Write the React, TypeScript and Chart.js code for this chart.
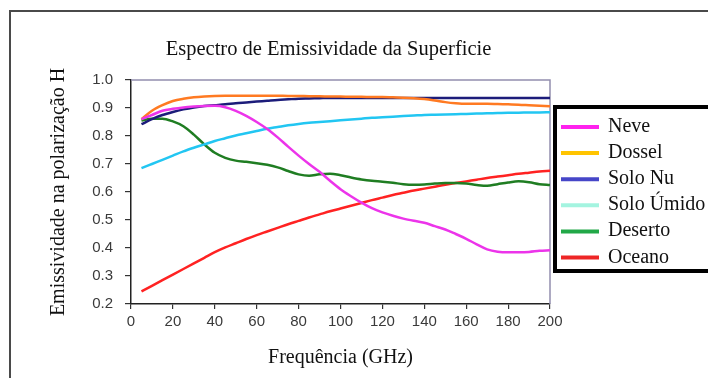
import React, { useEffect, useRef } from "react";
import { Chart, registerables } from "chart.js";

Chart.register(...registerables);

const chartTitle = "Espectro de Emissividade da Superficie";
const xTitle = "Frequência (GHz)";
const yTitle = "Emissividade na polarização H";

const freq = [5, 10, 15, 20, 25, 30, 35, 40, 45, 50, 55, 60, 65, 70, 75, 80, 85, 90, 95, 100,
  105, 110, 115, 120, 125, 130, 135, 140, 145, 150, 155, 160, 165, 170, 175, 180, 185, 190, 195, 200];

const neve = [0.86, 0.875, 0.89, 0.897, 0.902, 0.905, 0.907, 0.908, 0.903, 0.89, 0.872, 0.85, 0.825, 0.795, 0.762, 0.73, 0.7, 0.672, 0.64, 0.61,
  0.585, 0.562, 0.542, 0.527, 0.515, 0.505, 0.497, 0.49, 0.478, 0.466, 0.45, 0.433, 0.413, 0.395, 0.387, 0.385, 0.385, 0.386, 0.39, 0.392];

const dossel = [0.86, 0.89, 0.91, 0.925, 0.933, 0.938, 0.941, 0.943, 0.944, 0.944, 0.944, 0.944, 0.944, 0.944, 0.943, 0.943, 0.942, 0.942, 0.941, 0.941,
  0.94, 0.94, 0.939, 0.939, 0.938, 0.937, 0.935, 0.932, 0.927, 0.921, 0.917, 0.915, 0.915, 0.915, 0.914, 0.913, 0.912, 0.91, 0.908, 0.906];

const soloNu = [0.842, 0.86, 0.875, 0.886, 0.895, 0.902, 0.907, 0.91, 0.913, 0.917, 0.92, 0.923, 0.926, 0.929, 0.931, 0.933, 0.934, 0.935, 0.936, 0.936,
  0.936, 0.936, 0.936, 0.936, 0.936, 0.936, 0.936, 0.936, 0.936, 0.936, 0.936, 0.936, 0.936, 0.936, 0.936, 0.936, 0.936, 0.936, 0.936, 0.936];

const soloUmido = [0.685, 0.7, 0.715, 0.73, 0.745, 0.758, 0.77, 0.782, 0.792, 0.802, 0.81, 0.818, 0.826, 0.832, 0.838, 0.843, 0.847, 0.85, 0.853, 0.856,
  0.859, 0.862, 0.865, 0.867, 0.869, 0.871, 0.873, 0.875, 0.876, 0.877, 0.878, 0.879, 0.88, 0.881, 0.882, 0.883, 0.883, 0.884, 0.884, 0.885];

const deserto = [0.855, 0.862, 0.862, 0.852, 0.835, 0.805, 0.77, 0.74, 0.722, 0.712, 0.708, 0.703, 0.697, 0.688, 0.675, 0.663, 0.658, 0.663, 0.665, 0.66,
  0.652, 0.645, 0.64, 0.637, 0.633, 0.628, 0.626, 0.627, 0.63, 0.632, 0.632, 0.63, 0.625, 0.622, 0.628, 0.634, 0.638, 0.635, 0.628, 0.625];

const oceano = [0.245, 0.265, 0.285, 0.305, 0.325, 0.345, 0.365, 0.385, 0.402, 0.417, 0.432, 0.446, 0.459, 0.472, 0.485, 0.497, 0.509, 0.52, 0.531, 0.541,
  0.551, 0.561, 0.571, 0.58, 0.589, 0.597, 0.605, 0.612, 0.619, 0.626, 0.632, 0.638, 0.644, 0.65, 0.655, 0.66, 0.665, 0.669, 0.673, 0.676];

const seriesLabels = ["Neve", "Dossel", "Solo Nu", "Solo Úmido", "Deserto", "Oceano"];
const seriesValues = [neve, dossel, soloNu, soloUmido, deserto, oceano];
const lineColors = ["#ec34ea", "#ff7a22", "#1c1c7a", "#22c6f2", "#1f7d22", "#ff2222"];
const legendColors = ["#ff22ee", "#ffc400", "#4646c8", "#a4f4e0", "#22a848", "#ee2626"];

const SERIF = '"Liberation Serif", "Times New Roman", serif';
const SANS = '"Liberation Sans", Arial, sans-serif';

const decorPlugin = {
  id: "decor",
  beforeDraw(chart: any) {
    const ctx = chart.ctx;
    ctx.save();
    ctx.fillStyle = "#ffffff";
    ctx.fillRect(0, 0, chart.width, chart.height);
    ctx.strokeStyle = "#4a4a4a";
    ctx.lineWidth = 2;
    ctx.beginPath();
    ctx.moveTo(10, chart.height + 2);
    ctx.lineTo(10, 11);
    ctx.lineTo(chart.width + 2, 11);
    ctx.stroke();
    ctx.restore();
  },
  beforeDatasetsDraw(chart: any) {
    const ctx = chart.ctx;
    const a = chart.chartArea;
    ctx.save();
    ctx.strokeStyle = "#938eae";
    ctx.lineWidth = 1.5;
    ctx.beginPath();
    ctx.moveTo(a.left, a.top);
    ctx.lineTo(a.right, a.top);
    ctx.lineTo(a.right, a.bottom);
    ctx.stroke();
    ctx.restore();
  },
  afterDraw(chart: any) {
    const ctx = chart.ctx;
    const a = chart.chartArea;
    ctx.save();
    ctx.fillStyle = "#111111";
    ctx.font = "20.5px " + SERIF;
    ctx.textAlign = "center";
    ctx.textBaseline = "alphabetic";
    ctx.fillText(chartTitle, (a.left + a.right) / 2 - 12, 55);

    const boxLeft = a.right + 5;
    const boxTop = 107;
    const boxBottom = 271;
    ctx.fillStyle = "#ffffff";
    ctx.fillRect(boxLeft, boxTop, chart.width - boxLeft + 4, boxBottom - boxTop);
    ctx.strokeStyle = "#000000";
    ctx.lineWidth = 4;
    ctx.strokeRect(boxLeft, boxTop, chart.width - boxLeft + 6, boxBottom - boxTop);
    ctx.textAlign = "left";
    ctx.font = "20px " + SERIF;
    chart.data.datasets.forEach((ds: any, i: number) => {
      const base = 132 + i * 26.1;
      ctx.strokeStyle = legendColors[i];
      ctx.lineWidth = 4;
      ctx.beginPath();
      ctx.moveTo(boxLeft + 6, base - 5);
      ctx.lineTo(boxLeft + 44, base - 5);
      ctx.stroke();
      ctx.fillStyle = "#111111";
      ctx.fillText(ds.label, boxLeft + 53, base);
    });
    ctx.restore();
  },
};

export default function App() {
  const ref = useRef<HTMLCanvasElement | null>(null);
  useEffect(() => {
    if (!ref.current) return;
    const datasets = seriesLabels.map((label, i) => ({
      label,
      data: freq.map((f, j) => ({ x: f, y: seriesValues[i][j] })),
      borderColor: lineColors[i],
      backgroundColor: lineColors[i],
      borderWidth: 2.5,
      pointRadius: 0,
      cubicInterpolationMode: "monotone" as const,
      fill: false,
    }));
    const chart = new Chart(ref.current, {
      type: "line",
      data: { datasets },
      options: {
        responsive: false,
        animation: false,
        layout: { padding: { left: 0, top: 80, right: 158, bottom: 0 } },
        plugins: {
          legend: { display: false },
          title: { display: false },
          tooltip: { enabled: false },
        },
        scales: {
          x: {
            type: "linear",
            min: 0,
            max: 200,
            afterFit: (s: any) => { s.height = 74; },
            ticks: { stepSize: 20, color: "#3a3a3a", font: { family: SANS, size: 15 }, padding: 4, maxRotation: 0 },
            grid: { drawOnChartArea: false, drawTicks: true, tickLength: 5, color: "#333333", lineWidth: 1.2 },
            border: { display: true, color: "#222222", width: 1.5 },
            title: { display: true, text: xTitle, color: "#111111", font: { family: SERIF, size: 20 }, padding: { top: 0, bottom: 8 } },
          },
          y: {
            type: "linear",
            min: 0.2,
            max: 1.0,
            afterFit: (s: any) => { s.width = 131; },
            ticks: { stepSize: 0.1, color: "#3a3a3a", font: { family: SANS, size: 15 }, padding: 12, callback: (v: any) => Number(v).toFixed(1) },
            grid: { drawOnChartArea: false, drawTicks: true, tickLength: 6, color: "#333333", lineWidth: 1.2 },
            border: { display: true, color: "#222222", width: 1.5 },
            title: { display: true, text: yTitle, color: "#111111", font: { family: SERIF, size: 20 }, padding: { top: 47, bottom: 0 } },
          },
        },
      },
      plugins: [decorPlugin],
    });
    return () => chart.destroy();
  }, []);
  return (
    <div style={{ position: "absolute", left: 0, top: 0, width: 708, height: 378 }}>
      <canvas ref={ref} width={708} height={378} style={{ display: "block", width: 708, height: 378 }} />
    </div>
  );
}
